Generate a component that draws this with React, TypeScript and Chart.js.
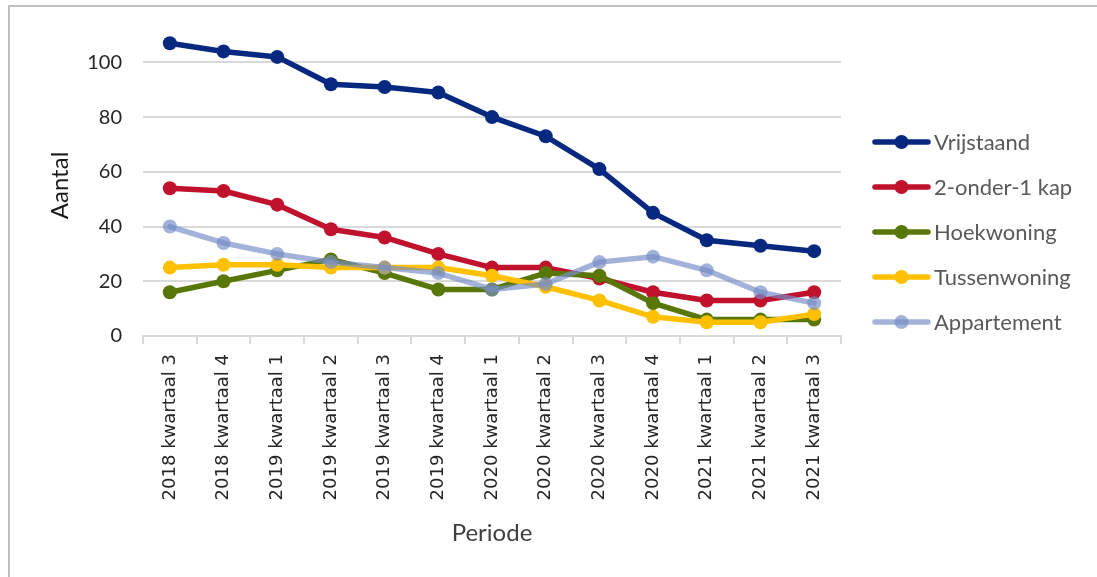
import React, { useEffect, useRef } from 'react';
import { Chart, registerables } from 'chart.js';

Chart.register(...registerables);

const periods = [
  '2018 kwartaal 3', '2018 kwartaal 4', '2019 kwartaal 1', '2019 kwartaal 2',
  '2019 kwartaal 3', '2019 kwartaal 4', '2020 kwartaal 1', '2020 kwartaal 2',
  '2020 kwartaal 3', '2020 kwartaal 4', '2021 kwartaal 1', '2021 kwartaal 2',
  '2021 kwartaal 3',
];
const vrijstaand = [107, 104, 102, 92, 91, 89, 80, 73, 61, 45, 35, 33, 31];
const tweeOnderEenKap = [54, 53, 48, 39, 36, 30, 25, 25, 21, 16, 13, 13, 16];
const hoekwoning = [16, 20, 24, 28, 23, 17, 17, 23, 22, 12, 6, 6, 6];
const tussenwoning = [25, 26, 26, 25, 25, 25, 22, 18, 13, 7, 5, 5, 8];
const appartement = [40, 34, 30, 27, 25, 23, 17, 19, 27, 29, 24, 16, 12];
const seriesNames = ['Vrijstaand', '2-onder-1 kap', 'Hoekwoning', 'Tussenwoning', 'Appartement'];
const seriesColors = ['#06287F', '#C0112D', '#587708', '#FFC000', 'rgba(118,142,198,0.68)'];
const yTicks = [0, 20, 40, 60, 80, 100];
const yAxisTitle = 'Aantal';
const xAxisTitle = 'Periode';

const legendPlugin = {
  id: 'customLegend',
  afterDraw(chart: any) {
    const ctx = chart.ctx;
    const sets = chart.data.datasets;
    ctx.save();
    sets.forEach((ds: any, i: number) => {
      const y = 142 + i * 45;
      ctx.strokeStyle = ds.borderColor;
      ctx.lineWidth = 5.5;
      ctx.lineCap = 'round';
      ctx.beginPath();
      ctx.moveTo(875, y);
      ctx.lineTo(928, y);
      ctx.stroke();
      ctx.fillStyle = ds.backgroundColor;
      ctx.beginPath();
      ctx.arc(901.5, y, 7, 0, Math.PI * 2);
      ctx.fill();
      ctx.fillStyle = '#595959';
      ctx.font = '22px Lato';
      ctx.textBaseline = 'middle';
      ctx.textAlign = 'left';
      ctx.fillText(ds.label, 934, y + 1);
    });
    ctx.restore();
  },
};

export default function App() {
  const ref = useRef<HTMLCanvasElement | null>(null);
  useEffect(() => {
    if (!ref.current) return;
    const data = [vrijstaand, tweeOnderEenKap, hoekwoning, tussenwoning, appartement];
    const chart = new Chart(ref.current, {
      type: 'line',
      data: {
        labels: periods,
        datasets: data.map((d, i) => ({
          label: seriesNames[i],
          data: d,
          borderColor: seriesColors[i],
          backgroundColor: seriesColors[i],
          pointBackgroundColor: seriesColors[i],
          pointBorderWidth: 0,
          pointRadius: 7,
          borderWidth: 5.5,
          tension: 0,
          borderJoinStyle: 'round',
          borderCapStyle: 'round',
          order: 5 - i,
        })),
      },
      options: {
        responsive: false,
        animation: false,
        layout: { padding: { top: 35, right: 256, bottom: 20, left: 0 } },
        plugins: { legend: { display: false }, tooltip: { enabled: false }, title: { display: false } },
        scales: {
          x: {
            type: 'category',
            offset: true,
            afterFit: (s: any) => { s.height = 221; },
            grid: { offset: true, drawOnChartArea: false, drawTicks: true, tickLength: 8, color: '#D9D9D9', lineWidth: 2 },
            border: { display: true, color: '#D9D9D9', width: 2 },
            ticks: {
              minRotation: 90, maxRotation: 90, autoSkip: false, padding: 10,
              color: '#262626', font: { family: 'DejaVu Sans', size: 18 },
            },
            title: {
              display: true, text: xAxisTitle, color: '#404040',
              font: { family: 'Lato', size: 24 }, padding: { top: 0, bottom: 9 },
            },
          },
          y: {
            min: 0,
            max: 110,
            afterFit: (s: any) => { s.width = 143; },
            afterBuildTicks: (s: any) => { s.ticks = yTicks.map((v) => ({ value: v })); },
            grid: { color: '#D9D9D9', lineWidth: 2, drawTicks: false },
            border: { display: false },
            ticks: { padding: 21, color: '#262626', font: { family: 'Lato', size: 20 } },
            title: {
              display: true, text: yAxisTitle, color: '#1a1a1a',
              font: { family: 'Lato', size: 24 }, padding: { top: 46, bottom: 0 },
            },
          },
        },
      },
      plugins: [legendPlugin],
    } as any);
    return () => chart.destroy();
  }, []);

  return (
    <div style={{ position: 'fixed', left: 0, top: 0, width: 1097, height: 577, background: '#fff', overflow: 'hidden' }}>
      <div style={{ position: 'absolute', left: 8, top: 5, width: 1200, height: 700, borderLeft: '2px solid #BFBFBF', borderTop: '2px solid #BFBFBF' }} />
      <canvas ref={ref} width={1097} height={577} style={{ position: 'absolute', left: 0, top: 0 }} />
    </div>
  );
}
